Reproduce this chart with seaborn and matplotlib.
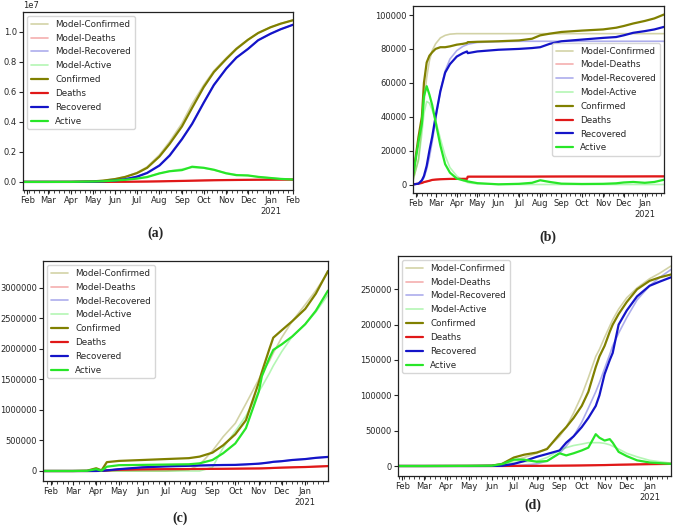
import pandas as pd
import seaborn as sns
import matplotlib.pyplot as plt
import matplotlib.dates as mdates
from matplotlib.ticker import FuncFormatter

# ---- panel (a) ----
dates_a = ['2020-01-26', '2020-03-01', '2020-04-01', '2020-05-01', '2020-05-15', '2020-06-01',
           '2020-06-15', '2020-07-01', '2020-07-15', '2020-08-01', '2020-08-15', '2020-09-01',
           '2020-09-15', '2020-10-01', '2020-10-15', '2020-11-01', '2020-11-15', '2020-12-01',
           '2020-12-15', '2021-01-01', '2021-01-15', '2021-02-01']
conf_a = [0, 0, 2000, 35000, 82000, 190000, 333000, 585000, 937000, 1690000, 2530000, 3690000,
          4930000, 6310000, 7310000, 8180000, 8850000, 9460000, 9910000, 10290000, 10530000, 10760000]
deaths_a = [0, 0, 50, 1100, 2600, 5400, 9500, 17000, 24000, 37000, 50000, 66000,
            80000, 98000, 111000, 122000, 130000, 138000, 144000, 149000, 152000, 154000]
rec_a = [0, 0, 200, 9000, 34000, 91000, 180000, 347000, 593000, 1090000, 1750000, 2840000,
         3860000, 5270000, 6450000, 7540000, 8270000, 8850000, 9430000, 9860000, 10160000, 10460000]
act_a = [0, 0, 1800, 25000, 45000, 94000, 143000, 220000, 320000, 565000, 710000, 785000,
         1010000, 940000, 810000, 570000, 450000, 430000, 335000, 260000, 200000, 160000]
m_conf_a = [0, 0, 3000, 40000, 90000, 200000, 350000, 620000, 1000000, 1800000, 2680000, 3900000,
            5200000, 6450000, 7400000, 8250000, 8900000, 9480000, 9920000, 10300000, 10540000, 10770000]
m_deaths_a = [0, 0, 50, 1000, 2500, 5300, 9400, 16500, 24000, 37000, 51000, 66000,
              81000, 98000, 111000, 122000, 130000, 138000, 144000, 149000, 152000, 154000]
m_rec_a = [0, 0, 200, 9000, 35000, 95000, 190000, 360000, 620000, 1120000, 1800000, 2880000,
           3900000, 5300000, 6470000, 7550000, 8280000, 8860000, 9430000, 9860000, 10160000, 10460000]
m_act_a = [0, 0, 2000, 27000, 50000, 100000, 150000, 240000, 350000, 580000, 720000, 860000,
           960000, 920000, 790000, 600000, 480000, 420000, 340000, 265000, 205000, 160000]

# ---- panel (b) ----
dates_b = ['2020-01-28', '2020-02-05', '2020-02-10', '2020-02-13', '2020-02-17', '2020-02-21',
           '2020-02-25', '2020-03-01', '2020-03-08', '2020-03-15', '2020-03-22', '2020-04-01',
           '2020-04-10', '2020-04-16', '2020-04-17', '2020-04-20', '2020-05-01', '2020-06-01',
           '2020-07-01', '2020-07-20', '2020-08-01', '2020-08-15', '2020-09-01', '2020-10-01',
           '2020-11-01', '2020-11-20', '2020-12-01', '2020-12-15', '2021-01-01', '2021-01-15',
           '2021-01-29']
conf_b = [5000, 28000, 40000, 60000, 72000, 76000, 78000, 80000, 81000, 81000, 81500, 82500,
          83000, 83500, 84000, 84000, 84200, 84500, 85000, 86000, 88000, 89000, 90000, 90800,
          91500, 92500, 93500, 95000, 96500, 98000, 100300]
deaths_b = [100, 500, 900, 1400, 1800, 2200, 2700, 2900, 3100, 3200, 3300, 3300,
            3350, 3350, 4600, 4630, 4630, 4630, 4640, 4640, 4680, 4700, 4720, 4740,
            4740, 4740, 4740, 4760, 4780, 4800, 4800]
rec_b = [0, 500, 2500, 5000, 11000, 20000, 28000, 40000, 55000, 66000, 71000, 75500,
         77500, 78500, 77500, 77700, 78500, 79500, 80000, 80500, 81000, 83000, 84500, 85500,
         86500, 87000, 88000, 89500, 90500, 91500, 93000]
act_b = [5000, 25000, 36000, 52000, 58000, 53000, 47000, 37000, 23000, 12000, 7000, 3500,
         2500, 2000, 1800, 1600, 800, 100, 400, 1000, 2500, 1500, 500, 300,
         400, 700, 1200, 1500, 1000, 1500, 2800]
m_conf_b = [2000, 15000, 35000, 48000, 63000, 73000, 79000, 83000, 86500, 88000, 88700, 89000,
            89000, 89000, 89000, 89000, 89000, 89000, 89000, 89000, 89000, 89000, 89000, 89000,
            89000, 89000, 89000, 89000, 89000, 89000, 89000]
m_deaths_b = [100, 500, 900, 1400, 1800, 2200, 2700, 2900, 3100, 3200, 3300, 3300,
              3350, 3350, 4600, 4630, 4630, 4630, 4640, 4640, 4680, 4700, 4720, 4740,
              4740, 4740, 4740, 4760, 4780, 4800, 4800]
m_rec_b = [0, 500, 2000, 4000, 9000, 16000, 25000, 38000, 55000, 67000, 74000, 79000,
           81500, 82500, 82700, 83000, 83800, 84300, 84500, 84500, 84500, 84500, 84500, 84500,
           84500, 84500, 84500, 84500, 84500, 84500, 84500]
m_act_b = [3000, 14000, 30000, 42000, 49000, 48000, 44000, 38000, 27000, 17000, 10000, 5000,
           2500, 1300, 1200, 900, 400, 100, 0, 0, 0, 0, 0, 0,
           0, 0, 0, 0, 0, 0, 0]

# ---- panel (c) ----
dates_c = ['2020-01-22', '2020-03-01', '2020-03-20', '2020-04-01', '2020-04-08', '2020-04-15',
           '2020-05-01', '2020-06-01', '2020-07-01', '2020-08-01', '2020-08-15', '2020-09-01',
           '2020-09-15', '2020-10-01', '2020-10-15', '2020-11-01', '2020-11-05', '2020-11-15',
           '2020-11-20', '2020-12-01', '2020-12-15', '2021-01-01', '2021-01-15', '2021-01-31']
conf_c = [0, 0, 5000, 45000, 10000, 145000, 165000, 180000, 195000, 210000, 235000, 300000,
          420000, 600000, 830000, 1450000, 1620000, 2000000, 2180000, 2300000, 2450000, 2650000,
          2900000, 3270000]
deaths_c = [0, 0, 0, 1000, 2000, 10000, 20000, 27000, 30000, 32000, 33000, 35000,
            36000, 38000, 40000, 42000, 43000, 47000, 50000, 55000, 60000, 65000, 72000, 80000]
rec_c = [0, 0, 0, 1000, 3000, 10000, 30000, 60000, 75000, 85000, 90000, 95000,
         98000, 100000, 108000, 120000, 125000, 140000, 150000, 160000, 180000, 195000, 215000, 230000]
act_c = [0, 0, 3000, 30000, 5000, 70000, 95000, 100000, 105000, 110000, 125000, 180000,
         290000, 450000, 700000, 1300000, 1550000, 1850000, 1980000, 2070000, 2200000, 2400000,
         2620000, 2950000]
m_conf_c = [0, 0, 0, 0, 0, 0, 0, 0, 0, 20000, 100000, 330000,
            560000, 780000, 1100000, 1500000, 1600000, 1800000, 1930000, 2180000, 2450000, 2720000,
            2950000, 3250000]
m_deaths_c = [0, 0, 0, 1000, 2000, 9000, 19000, 26000, 30000, 32000, 33000, 35000,
              36000, 38000, 40000, 42000, 43000, 47000, 50000, 55000, 60000, 65000, 72000, 80000]
m_rec_c = [0, 0, 0, 1000, 3000, 10000, 30000, 58000, 74000, 85000, 90000, 95000,
           98000, 101000, 108000, 120000, 125000, 140000, 150000, 160000, 180000, 195000, 215000, 230000]
m_act_c = [0, 0, 0, 0, 0, 0, 0, 0, 0, 0, 0, 60000,
           380000, 650000, 900000, 1300000, 1380000, 1600000, 1720000, 1950000, 2200000, 2400000,
           2600000, 2880000]

# ---- panel (d) ----
dates_d = ['2020-01-26', '2020-03-01', '2020-05-01', '2020-06-01', '2020-06-15', '2020-07-01',
           '2020-07-15', '2020-08-01', '2020-08-15', '2020-09-01', '2020-09-10', '2020-09-20',
           '2020-10-01', '2020-10-10', '2020-10-20', '2020-10-25', '2020-11-01', '2020-11-08',
           '2020-11-12', '2020-11-20', '2020-12-01', '2020-12-15', '2021-01-01', '2021-01-15',
           '2021-01-30']
conf_d = [0, 0, 200, 500, 3000, 12000, 16000, 19000, 24000, 45000, 55000, 68000,
          85000, 105000, 140000, 155000, 170000, 190000, 200000, 215000, 232000, 250000,
          262000, 267000, 271000]
deaths_d = [0, 0, 0, 10, 30, 100, 150, 200, 300, 450, 550, 650,
            800, 950, 1100, 1200, 1300, 1500, 1600, 1800, 2000, 2300, 2600, 2800, 3000]
rec_d = [0, 0, 0, 100, 300, 3000, 7000, 13000, 17000, 22000, 33000, 42000,
         55000, 68000, 85000, 100000, 130000, 150000, 160000, 200000, 220000, 240000,
         255000, 261000, 267000]
act_d = [0, 0, 200, 400, 2700, 9000, 9000, 6000, 7000, 18000, 15000, 18000,
         22000, 26000, 45000, 40000, 36000, 38000, 33000, 20000, 14000, 8000, 5000, 4000, 3000]
m_conf_d = [0, 0, 0, 500, 2000, 8000, 12000, 18000, 25000, 42000, 55000, 75000,
            100000, 125000, 155000, 165000, 182000, 198000, 207000, 222000, 238000, 252000,
            265000, 273000, 283000]
m_deaths_d = [0, 0, 0, 10, 30, 100, 150, 200, 300, 450, 550, 650,
              800, 950, 1100, 1200, 1300, 1500, 1600, 1800, 2000, 2300, 2600, 2800, 3000]
m_rec_d = [0, 0, 0, 0, 0, 500, 1500, 3000, 7000, 18000, 28000, 42000,
           62000, 82000, 105000, 118000, 138000, 158000, 170000, 188000, 210000, 235000,
           255000, 267000, 278000]
m_act_d = [0, 0, 0, 500, 2000, 5000, 6000, 7000, 12000, 22000, 26000, 29000,
           31000, 33000, 33000, 33000, 32000, 30000, 28000, 24000, 18000, 13000, 8000, 6000, 4000]

labels = ['Model-Confirmed', 'Model-Deaths', 'Model-Recovered', 'Model-Active',
          'Confirmed', 'Deaths', 'Recovered', 'Active']
colors = ['#808000', '#e01818', '#1414c8', '#28e628'] * 2

sns.set_style('ticks')
plt.rcParams['font.family'] = ['DejaVu Sans']
plt.rcParams['font.size'] = 6

W, H = 675, 527
fig = plt.figure(figsize=(W / 100, H / 100), dpi=100)


def month_fmt(x, pos):
    d = mdates.num2date(x)
    s = d.strftime('%b')
    if d.month == 1:
        s += '\n' + str(d.year)
    return s


def panel(box, dates, series, legend_loc, plain=False):
    left, top, right, bottom = box
    ax = fig.add_axes([left / W, 1 - bottom / H, (right - left) / W, (bottom - top) / H])
    d = pd.to_datetime(dates)
    for i, (vals, lab) in enumerate(zip(series, labels)):
        model = i < 4
        sns.lineplot(x=d, y=vals, ax=ax, color=colors[i], label=lab,
                     lw=1.2 if model else 1.6, alpha=0.35 if model else 1.0)
    ax.set_xlim(d[0], d[-1])
    ax.xaxis.set_major_locator(mdates.MonthLocator())
    ax.xaxis.set_minor_locator(mdates.WeekdayLocator(byweekday=mdates.MO))
    ax.xaxis.set_major_formatter(FuncFormatter(month_fmt))
    ax.tick_params(which='major', length=3, width=0.8, labelsize=6, pad=1.5)
    ax.tick_params(which='minor', length=1.8, width=0.6)
    ax.set_xlabel('')
    ax.set_ylabel('')
    if plain:
        ax.ticklabel_format(axis='y', style='plain')
    for sp in ax.spines.values():
        sp.set_color('#222222')
        sp.set_linewidth(0.9)
    ax.legend(loc=legend_loc, fontsize=6.3, handlelength=2, labelspacing=0.55,
              borderpad=0.4, framealpha=0.8)
    return ax


panel((23, 12, 293, 190), dates_a,
      [m_conf_a, m_deaths_a, m_rec_a, m_act_a, conf_a, deaths_a, rec_a, act_a], 'upper left')
panel((413, 6, 664, 193), dates_b,
      [m_conf_b, m_deaths_b, m_rec_b, m_act_b, conf_b, deaths_b, rec_b, act_b], 'center right')
panel((43, 261, 328, 481), dates_c,
      [m_conf_c, m_deaths_c, m_rec_c, m_act_c, conf_c, deaths_c, rec_c, act_c], 'upper left', plain=True)
panel((398, 256, 671, 476), dates_d,
      [m_conf_d, m_deaths_d, m_rec_d, m_act_d, conf_d, deaths_d, rec_d, act_d], 'upper left')

for txt, x, y in [('(a)', 155, 233), ('(b)', 548, 237), ('(c)', 180, 518), ('(d)', 533, 505)]:
    fig.text(x / W, 1 - y / H, txt, ha='center', va='center', fontsize=10,
             fontweight='bold', family='Liberation Serif')

fig.savefig('out.png', dpi=100)
